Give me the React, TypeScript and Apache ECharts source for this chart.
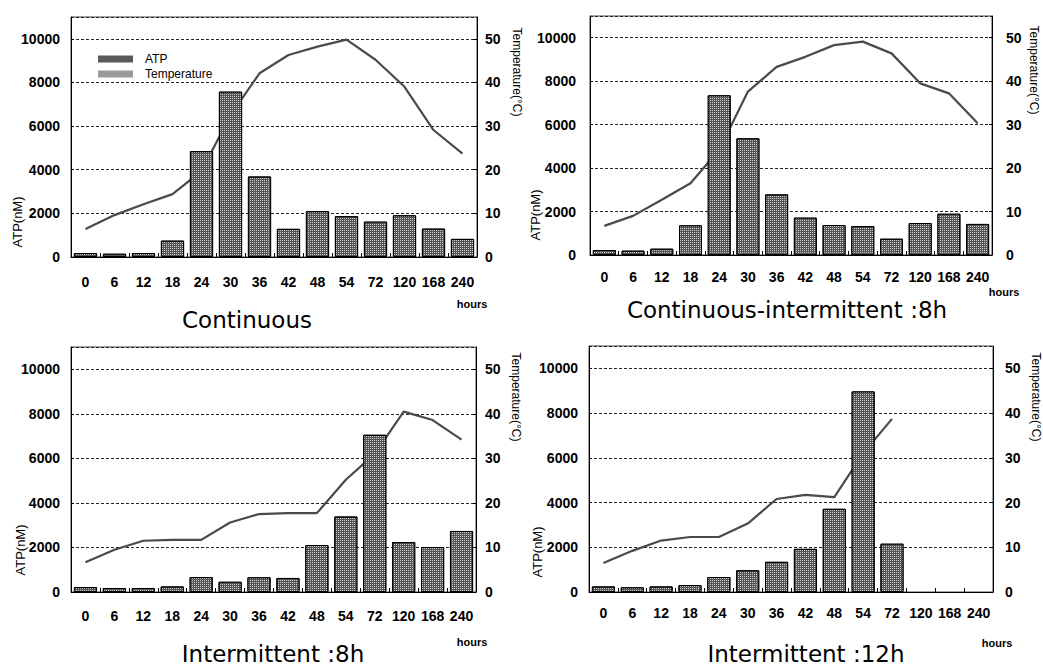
import React, { useEffect, useRef } from "react";
import * as echarts from "echarts";

const categories = ["0", "6", "12", "18", "24", "30", "36", "42", "48", "54", "72", "120", "168", "240"];

const atpContinuous = [180, 150, 180, 750, 4850, 7580, 3690, 1290, 2100, 1870, 1620, 1910, 1300, 830];
const tempContinuous = [6.4, 9.6, 12.1, 14.4, 19.7, 32.5, 42.1, 46.3, 48.2, 49.8, 45.2, 39.0, 29.1, 23.7];

const atpContInt8 = [230, 200, 290, 1365, 7350, 5370, 2790, 1720, 1380, 1330, 750, 1470, 1900, 1430];
const tempContInt8 = [6.7, 9.0, 12.7, 16.5, 24.2, 37.6, 43.3, 45.6, 48.3, 49.1, 46.4, 39.5, 37.2, 30.3];

const atpInt8 = [220, 180, 180, 250, 670, 460, 660, 630, 2110, 3390, 7060, 2240, 2020, 2740];
const tempInt8 = [6.7, 9.5, 11.5, 11.7, 11.7, 15.6, 17.5, 17.7, 17.7, 25.2, 31.0, 40.5, 38.6, 34.2];

const atpInt12 = [250, 210, 250, 310, 670, 970, 1350, 1930, 3720, 8970, 2160, null, null, null];
const tempInt12 = [6.5, 9.2, 11.5, 12.3, 12.3, 15.3, 20.8, 21.7, 21.2, 31.0, 38.7, null, null, null];

const panelTitles = ["Continuous", "Continuous-intermittent :8h", "Intermittent :8h", "Intermittent :12h"];
const atpSeries = [atpContinuous, atpContInt8, atpInt8, atpInt12];
const tempSeries = [tempContinuous, tempContInt8, tempInt8, tempInt12];

const leftAxisName = "ATP(nM)";
const rightAxisName = "Temperature(°C)";
const xUnit = "hours";

const layout = [
  { left: 71, top: 17, width: 406, height: 240, xM: 18, yLM: 11, yRM: 8, title: [247, 320], atpName: [17, 222], tempName: [517, 72], hours: [472, 304] },
  { left: 590, top: 16, width: 402, height: 239, xM: 15, yLM: 14, yRM: 14, title: [787, 310], atpName: [535, 215], tempName: [1034, 70], hours: [1004, 292] },
  { left: 71, top: 347, width: 405, height: 245, xM: 17, yLM: 11, yRM: 9, title: [273, 654], atpName: [20, 550], tempName: [516, 397], hours: [472, 642] },
  { left: 589, top: 346, width: 404, height: 246, xM: 14, yLM: 11, yRM: 12, title: [806, 654], atpName: [537, 552], tempName: [1036, 397], hours: [997, 643] },
];

const FONT = "'Liberation Sans', Arial, sans-serif";

const barDecal = {
  symbol: "rect",
  symbolSize: 1,
  color: "rgba(255,255,255,0.7)",
  dashArrayX: [1, 1],
  dashArrayY: [1, 1],
  rotation: 0,
};

export default function App() {
  const ref = useRef<HTMLDivElement>(null);

  useEffect(() => {
    if (!ref.current) return;
    const chart = echarts.init(ref.current, undefined, { renderer: "svg" });

    const grid: any[] = [];
    const xAxis: any[] = [];
    const yAxis: any[] = [];
    const series: any[] = [];
    const graphic: any[] = [];

    layout.forEach((p, i) => {
      grid.push({
        left: p.left,
        top: p.top,
        width: p.width,
        height: p.height,
        show: true,
        borderColor: "#444",
        borderWidth: 1,
        backgroundColor: "transparent",
      });
      xAxis.push({
        type: "category",
        gridIndex: i,
        data: categories,
        boundaryGap: true,
        axisLine: { lineStyle: { color: "#000", width: 1 } },
        axisTick: { show: true, inside: true, length: 4, lineStyle: { color: "#000" } },
        axisLabel: { interval: 0, margin: p.xM, color: "#000", fontSize: 14, fontWeight: "bold", fontFamily: FONT },
        splitLine: { show: false },
      });
      yAxis.push({
        type: "value",
        gridIndex: i,
        min: 0,
        max: 11000,
        interval: 2000,
        position: "left",
        axisLine: { show: true, lineStyle: { color: "#000", width: 1 } },
        axisTick: { show: true, inside: true, length: 3, lineStyle: { color: "#000" } },
        axisLabel: {
          margin: p.yLM,
          color: "#000",
          fontSize: 14,
          fontWeight: "bold",
          fontFamily: FONT,
          showMaxLabel: false,
          formatter: (v: number) => String(v),
        },
        splitLine: { show: true, lineStyle: { color: "#222", width: 1, type: [3, 2] } },
      });
      yAxis.push({
        type: "value",
        gridIndex: i,
        min: 0,
        max: 55,
        interval: 10,
        position: "right",
        axisLine: { show: true, lineStyle: { color: "#000", width: 1 } },
        axisTick: { show: true, inside: true, length: 3, lineStyle: { color: "#000" } },
        axisLabel: {
          margin: p.yRM,
          color: "#000",
          fontSize: 14,
          fontWeight: "bold",
          fontFamily: FONT,
          showMaxLabel: false,
          formatter: (v: number) => String(v),
        },
        splitLine: { show: false },
      });
      series.push({
        name: "ATP",
        type: "bar",
        xAxisIndex: i,
        yAxisIndex: i * 2,
        data: atpSeries[i],
        barCategoryGap: "20%",
        z: 3,
        itemStyle: { color: "#555", borderColor: "#000", borderWidth: 1, decal: barDecal },
      });
      series.push({
        name: "Temperature",
        type: "line",
        xAxisIndex: i,
        yAxisIndex: i * 2 + 1,
        data: tempSeries[i],
        showSymbol: false,
        symbol: "none",
        z: 2,
        connectNulls: false,
        lineStyle: { color: "#4a4a4a", width: 2.2 },
        itemStyle: { color: "#4a4a4a" },
      });
      graphic.push({
        type: "text",
        x: p.title[0],
        y: p.title[1],
        style: { text: panelTitles[i], font: "23px 'DejaVu Sans', sans-serif", fill: "#000", textAlign: "center", textVerticalAlign: "middle" },
      });
      graphic.push({
        type: "text",
        x: p.atpName[0],
        y: p.atpName[1],
        rotation: Math.PI / 2,
        style: { text: leftAxisName, font: `13px ${FONT}`, fill: "#000", textAlign: "center", textVerticalAlign: "middle" },
      });
      graphic.push({
        type: "text",
        x: p.tempName[0],
        y: p.tempName[1],
        rotation: -Math.PI / 2,
        style: { text: rightAxisName, font: `12px ${FONT}`, fill: "#000", textAlign: "center", textVerticalAlign: "middle" },
      });
      graphic.push({
        type: "text",
        x: p.hours[0],
        y: p.hours[1],
        style: { text: xUnit, font: `bold 11px ${FONT}`, fill: "#000", textAlign: "center", textVerticalAlign: "middle" },
      });
    });

    chart.setOption({
      animation: false,
      backgroundColor: "#fff",
      grid,
      xAxis,
      yAxis,
      series,
      graphic,
      legend: {
        orient: "vertical",
        left: 93,
        top: 48,
        itemWidth: 35,
        itemHeight: 7,
        itemGap: 3,
        selectedMode: false,
        textStyle: { fontSize: 12, fontFamily: FONT, color: "#000", padding: [0, 0, 0, 7] },
        data: [
          { name: "ATP", icon: "rect", itemStyle: { color: "#5a5a5a", borderWidth: 0, decal: "none" } },
          { name: "Temperature", icon: "rect", itemStyle: { color: "#9a9a9a", borderWidth: 0 } },
        ],
      },
    });

    return () => chart.dispose();
  }, []);

  return (
    <div
      ref={ref}
      style={{ position: "absolute", left: 0, top: 0, width: 1043, height: 668, background: "#fff" }}
    />
  );
}
